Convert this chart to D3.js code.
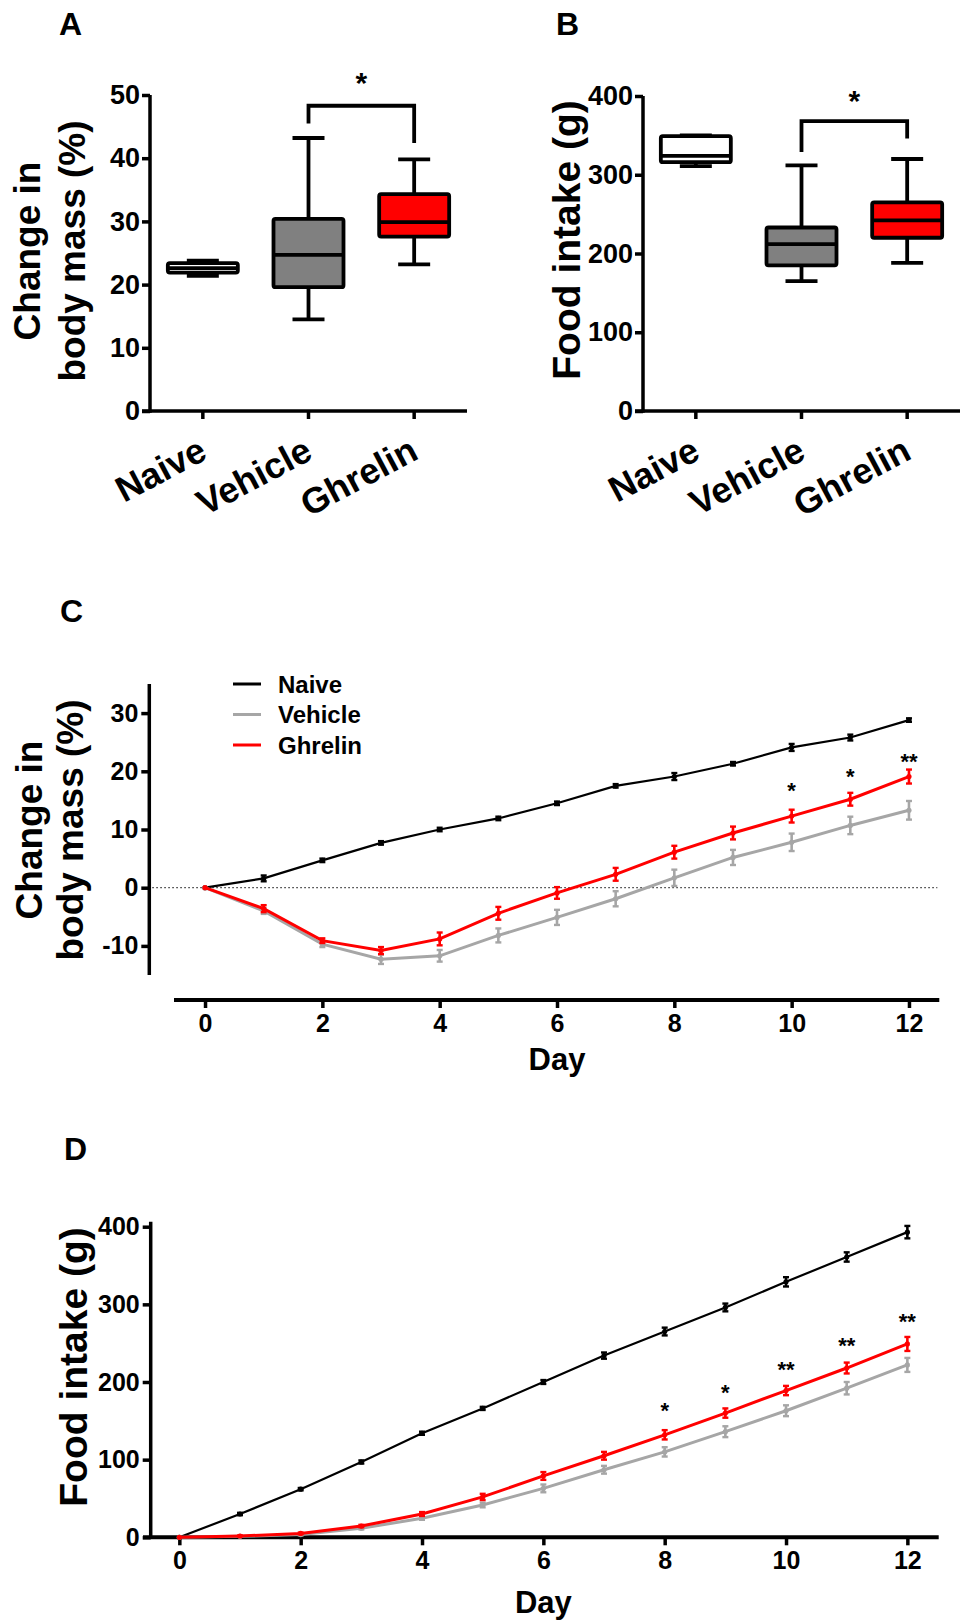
<!DOCTYPE html>
<html>
<head>
<meta charset="utf-8">
<script src="https://cdn.jsdelivr.net/npm/d3@7"></script>
<style>
  body { margin: 0; background: #fff; }
  svg { display: block; }
  text { font-family: "Liberation Sans", Arial, sans-serif; font-weight: bold; fill: #000; }
</style>
</head>
<body>
<svg width="964" height="1621"></svg>
<script>
// ---- data ----
const groups = ["Naive", "Vehicle", "Ghrelin"];
const boxFill = ["#ffffff", "#808080", "#ff0000"];

// A: change in body mass (%)
const massMin = [21.4, 14.5, 23.2];
const massQ1  = [21.9, 19.6, 27.6];
const massMed = [22.6, 24.7, 29.9];
const massQ3  = [23.4, 30.4, 34.3];
const massMax = [23.8, 43.2, 39.8];
const massTicks = [0, 10, 20, 30, 40, 50];

// B: food intake (g)
const foodMin = [311, 165, 188];
const foodQ1  = [316, 185, 220];
const foodMed = [324, 212, 242];
const foodQ3  = [349, 233, 265];
const foodMax = [350, 312, 320];
const foodTicks = [0, 100, 200, 300, 400];

// brackets: [top, left leg end, right leg end, star]
const bracketA = [48.3, 45.5, 42.4, 53.0];
const bracketB = [368, 329, 346, 402];

// C and D: daily course
const days = [0, 1, 2, 3, 4, 5, 6, 7, 8, 9, 10, 11, 12];
const dayTicks = [0, 2, 4, 6, 8, 10, 12];

const massNaive   = [0, 1.6, 4.7, 7.7, 10.0, 11.9, 14.5, 17.5, 19.1, 21.3, 24.1, 25.8, 28.8];
const massNaiveE  = [0, 0.5, 0.3, 0.3, 0.3, 0.3, 0.3, 0.3, 0.6, 0.3, 0.6, 0.5, 0.3];
const massVeh     = [0, -4.0, -9.7, -12.3, -11.7, -8.2, -5.1, -1.9, 1.7, 5.2, 7.8, 10.7, 13.3];
const massVehE    = [0, 0.5, 0.5, 0.8, 1.0, 1.2, 1.3, 1.3, 1.4, 1.3, 1.5, 1.5, 1.6];
const massGhr     = [0, -3.6, -9.1, -10.8, -8.8, -4.4, -0.9, 2.3, 6.1, 9.4, 12.3, 15.2, 19.1];
const massGhrE    = [0, 0.6, 0.4, 0.6, 1.1, 1.1, 1.0, 1.1, 1.1, 1.1, 1.1, 1.1, 1.2];
const massCTicks  = [-10, 0, 10, 20, 30];
const massStarDay = [10, 11, 12];
const massStarVal = [17.7, 20.0, 22.6];
const massStarTxt = ["*", "*", "**"];

const foodNaive   = [0, 30, 62, 97, 134, 166, 200, 234, 265, 296, 329, 361, 393];
const foodNaiveE  = [0, 1.5, 1.5, 2, 2, 2, 2.5, 4, 5, 5, 6, 6, 8];
const foodVeh     = [0, 1.2, 3.5, 11.6, 24.5, 41.6, 63, 87, 110, 136, 163, 192, 222];
const foodVehE    = [0, 0.5, 1, 1.5, 2, 3, 5, 5, 6, 7, 7, 8, 9];
const foodGhr     = [0, 1.7, 5, 14.5, 30, 52, 79, 105, 132, 160, 189, 218, 249];
const foodGhrE    = [0, 0.5, 1, 1.5, 2.5, 4, 5, 5, 6, 6, 6, 7, 9];
const foodDTicks  = [0, 100, 200, 300, 400];
const foodStarDay = [8, 9, 10, 11, 12];
const foodStarVal = [170, 194, 223, 254, 285];
const foodStarTxt = ["*", "*", "**", "**", "**"];

const seriesNames  = ["Naive", "Vehicle", "Ghrelin"];
const seriesColors = ["#000000", "#a6a6a6", "#ff0000"];

const svg = d3.select("svg");

// panel letters
svg.append("text").attr("x", 59).attr("y", 35).attr("font-size", 32).text("A");
svg.append("text").attr("x", 556).attr("y", 35).attr("font-size", 32).text("B");
svg.append("text").attr("x", 60).attr("y", 622).attr("font-size", 32).text("C");
svg.append("text").attr("x", 64).attr("y", 1160).attr("font-size", 32).text("D");

function yTitle(lines, xs, cy, size) {
  lines.forEach(function(t, i) {
    svg.append("text")
      .attr("transform", "translate(" + xs[i] + "," + cy + ") rotate(-90)")
      .attr("text-anchor", "middle")
      .attr("font-size", size)
      .text(t);
  });
}

function styleAxis(g, size) {
  g.select(".domain").remove();
  g.selectAll(".tick line").attr("stroke", "#000").attr("stroke-width", 3.5);
  g.selectAll(".tick text").attr("font-size", size).attr("font-family", "Liberation Sans, Arial, sans-serif")
    .attr("font-weight", "bold").attr("fill", "#000");
}

// ---- box panels ----
function boxPanel(p) {
  const x = d3.scalePoint().domain(groups).range([p.x0, p.x1]).padding(0.5);
  const y = d3.scaleLinear().domain(p.domain).range([p.yBottom, p.yTop]);
  const g = svg.append("g");

  const ay = g.append("g").attr("transform", "translate(" + p.x0 + ",0)")
    .call(d3.axisLeft(y).tickValues(p.ticks).tickSize(8).tickPadding(2).tickSizeOuter(0));
  styleAxis(ay, 27);
  g.append("line").attr("x1", p.x0).attr("x2", p.x0).attr("y1", y(p.domain[0]) + 1.75).attr("y2", y(p.domain[1]))
    .attr("stroke", "#000").attr("stroke-width", 3.5);
  g.append("line").attr("x1", p.x0 - 8).attr("x2", p.x1).attr("y1", y(0)).attr("y2", y(0))
    .attr("stroke", "#000").attr("stroke-width", 3.5);
  groups.forEach(function(c) {
    g.append("line").attr("x1", x(c)).attr("x2", x(c)).attr("y1", y(0)).attr("y2", y(0) + 8)
      .attr("stroke", "#000").attr("stroke-width", 3.5);
    g.append("text")
      .attr("transform", "translate(" + (x(c) + 6) + "," + 458 + ") rotate(-28)")
      .attr("text-anchor", "end").attr("font-size", 36).text(c);
  });

  const bw = 70, cw = 32;
  groups.forEach(function(c, i) {
    const cx = x(c);
    const b = g.append("g").attr("stroke", "#000").attr("stroke-width", 3.8);
    b.append("line").attr("x1", cx).attr("x2", cx).attr("y1", y(p.max[i])).attr("y2", y(p.q3[i]));
    b.append("line").attr("x1", cx).attr("x2", cx).attr("y1", y(p.q1[i])).attr("y2", y(p.min[i]));
    b.append("line").attr("x1", cx - cw / 2).attr("x2", cx + cw / 2).attr("y1", y(p.max[i])).attr("y2", y(p.max[i]));
    b.append("line").attr("x1", cx - cw / 2).attr("x2", cx + cw / 2).attr("y1", y(p.min[i])).attr("y2", y(p.min[i]));
    b.append("rect").attr("x", cx - bw / 2).attr("width", bw)
      .attr("y", y(p.q3[i])).attr("height", y(p.q1[i]) - y(p.q3[i]))
      .attr("fill", boxFill[i]).attr("rx", 2);
    b.append("line").attr("x1", cx - bw / 2).attr("x2", cx + bw / 2).attr("y1", y(p.med[i])).attr("y2", y(p.med[i]));
  });

  // significance bracket Vehicle vs Ghrelin
  const br = p.bracket, xl = x("Vehicle"), xr = x("Ghrelin");
  g.append("path")
    .attr("d", "M" + xl + "," + y(br[1]) + "V" + y(br[0]) + "H" + xr + "V" + y(br[2]))
    .attr("fill", "none").attr("stroke", "#000").attr("stroke-width", 3.8);
  g.append("text").attr("x", (xl + xr) / 2).attr("y", y(br[3]) + 17)
    .attr("text-anchor", "middle").attr("font-size", 30).text("*");
}

boxPanel({ x0: 150, x1: 467, yBottom: 411, yTop: 95, domain: [0, 50], ticks: massTicks,
  min: massMin, q1: massQ1, med: massMed, q3: massQ3, max: massMax, bracket: bracketA });
boxPanel({ x0: 643, x1: 960, yBottom: 411, yTop: 96, domain: [0, 400], ticks: foodTicks,
  min: foodMin, q1: foodQ1, med: foodMed, q3: foodQ3, max: foodMax, bracket: bracketB });

yTitle(["Change in", "body mass (%)"], [40, 85], 251, 37);
yTitle(["Food intake (g)"], [580], 240, 39);

// ---- time course panels ----
function linePanel(p) {
  const x = d3.scaleLinear().domain([-0.5, 12.5]).range(p.xRange);
  const y = d3.scaleLinear().domain(p.domain).range(p.yRange);
  const g = svg.append("g");

  const ay = g.append("g").attr("transform", "translate(" + p.yAxisX + ",0)")
    .call(d3.axisLeft(y).tickValues(p.ticks).tickSize(8).tickPadding(3).tickSizeOuter(0).tickFormat(String));
  styleAxis(ay, 25);
  g.append("line").attr("x1", p.yAxisX).attr("x2", p.yAxisX)
    .attr("y1", y(p.axisRange[0])).attr("y2", y(p.axisRange[1]))
    .attr("stroke", "#000").attr("stroke-width", 3.5);

  const ax = g.append("g").attr("transform", "translate(0," + p.xAxisY + ")")
    .call(d3.axisBottom(x).tickValues(dayTicks).tickSize(8).tickPadding(6).tickSizeOuter(0));
  styleAxis(ax, 25);
  g.append("line").attr("x1", p.xAxisFrom).attr("x2", x(12.5) + 1)
    .attr("y1", p.xAxisY).attr("y2", p.xAxisY)
    .attr("stroke", "#000").attr("stroke-width", 4);
  g.append("text").attr("x", x(6)).attr("y", p.dayY).attr("text-anchor", "middle")
    .attr("font-size", 31).text("Day");

  if (p.zeroLine) {
    g.append("line").attr("x1", p.yAxisX + 3).attr("x2", x(12.5) - 1)
      .attr("y1", y(0)).attr("y2", y(0))
      .attr("stroke", "#333").attr("stroke-width", 1.2).attr("stroke-dasharray", "1.5,2.5");
  }

  const line = d3.line().x(function(d, i) { return x(days[i]); }).y(function(d) { return y(d); });
  p.series.forEach(function(s, k) {
    const col = seriesColors[k];
    const sg = g.append("g");
    sg.append("path").datum(s.v).attr("d", line).attr("fill", "none")
      .attr("stroke", col).attr("stroke-width", k === 0 ? 2.2 : 3);
    s.v.forEach(function(v, i) {
      const e = s.e[i];
      if (e > 0) {
        sg.append("line").attr("x1", x(days[i])).attr("x2", x(days[i]))
          .attr("y1", y(v - e)).attr("y2", y(v + e)).attr("stroke", col).attr("stroke-width", 2.6);
        [v - e, v + e].forEach(function(w) {
          sg.append("line").attr("x1", x(days[i]) - 3).attr("x2", x(days[i]) + 3)
            .attr("y1", y(w)).attr("y2", y(w)).attr("stroke", col).attr("stroke-width", 2.4);
        });
      }
      sg.append("circle").attr("cx", x(days[i])).attr("cy", y(v)).attr("r", 2.6).attr("fill", col);
    });
  });

  p.starDay.forEach(function(d, i) {
    g.append("text").attr("x", x(d)).attr("y", y(p.starVal[i]) + 13)
      .attr("text-anchor", "middle").attr("font-size", 22).text(p.starTxt[i]);
  });

  if (p.legend) {
    seriesNames.forEach(function(n, k) {
      const ly = 684 + k * 30.5;
      g.append("line").attr("x1", 233).attr("x2", 261).attr("y1", ly).attr("y2", ly)
        .attr("stroke", seriesColors[k]).attr("stroke-width", 3);
      g.append("text").attr("x", 278).attr("y", ly + 8.5).attr("font-size", 24).text(n);
    });
  }
}

linePanel({
  xRange: [175.7, 938.3], domain: [-15, 35], yRange: [975, 684], axisRange: [-15, 35],
  yAxisX: 149.3, xAxisY: 1000, xAxisFrom: 174, dayY: 1070, ticks: massCTicks, zeroLine: true, legend: true,
  series: [{ v: massNaive, e: massNaiveE }, { v: massVeh, e: massVehE }, { v: massGhr, e: massGhrE }],
  starDay: massStarDay, starVal: massStarVal, starTxt: massStarTxt
});
linePanel({
  xRange: [149, 937.7], domain: [0, 400], yRange: [1537.3, 1226.7], axisRange: [0, 406.4],
  yAxisX: 150.7, xAxisY: 1537.3, xAxisFrom: 143, dayY: 1613, ticks: foodDTicks, zeroLine: false, legend: false,
  series: [{ v: foodNaive, e: foodNaiveE }, { v: foodVeh, e: foodVehE }, { v: foodGhr, e: foodGhrE }],
  starDay: foodStarDay, starVal: foodStarVal, starTxt: foodStarTxt
});

yTitle(["Change in", "body mass (%)"], [42, 83], 830, 37);
yTitle(["Food intake (g)"], [87], 1367, 39);
</script>
</body>
</html>
